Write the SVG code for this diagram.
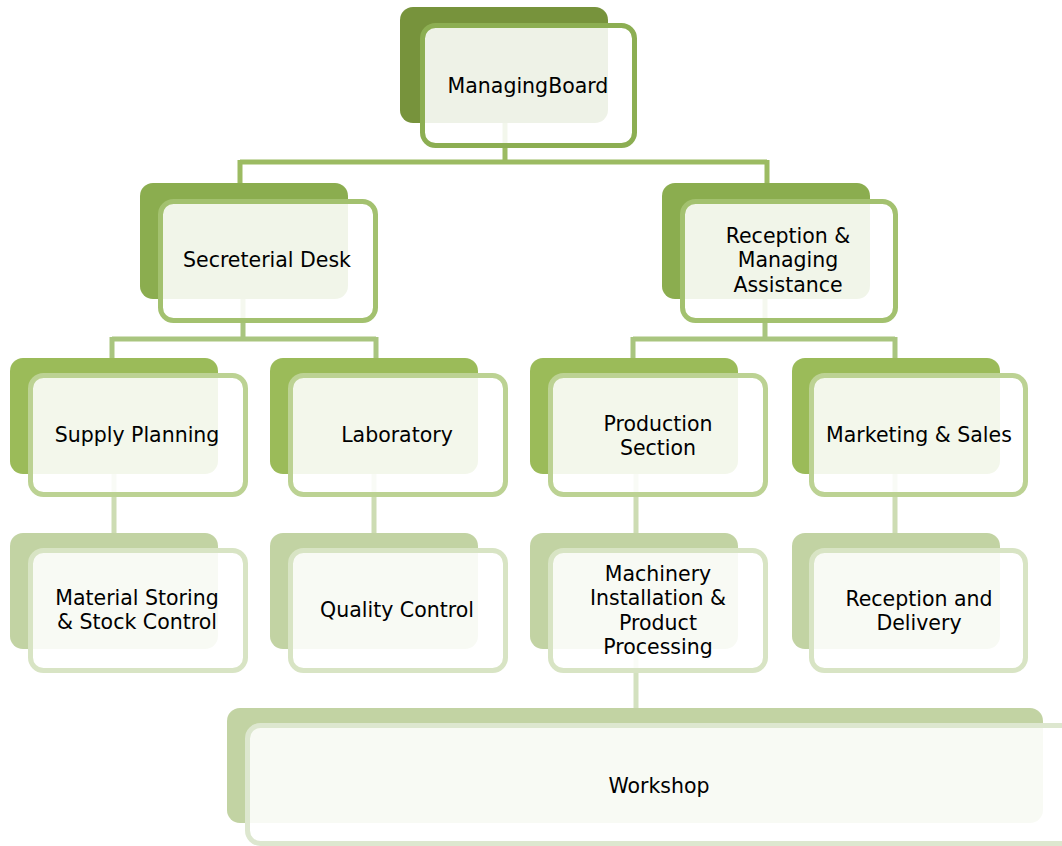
<svg xmlns="http://www.w3.org/2000/svg" width="1062" height="846" viewBox="0 0 1062 846">
  <style>
    text { font-family: "DejaVu Sans", "Open Sans", sans-serif; font-size: 20.5px; fill: #000; text-anchor: middle; }
    .back { stroke: none; }
    .front { fill: #ffffff; fill-opacity: 0.88; stroke-width: 5; }
    .b0 { fill: #77933c; } .f0 { stroke: #8cae52; }
    .b1 { fill: #8bad4f; } .f1 { stroke: #a3c16f; }
    .b2 { fill: #9bbb59; } .f2 { stroke: #bcd293; }
    .b3 { fill: #c2d3a3; } .f3 { stroke: #d8e4c4; }
    .f4 { stroke: #dde7cf; }
    .conn { fill: none; stroke-width: 5; stroke-linecap: butt; }
    .c0 { stroke: #9cbb62; }
    .c1 { stroke: #a9c57f; }
    .c2 { stroke: #cddcb3; }
    .c3 { stroke: #d3e1bf; }
  </style>

  <!-- connectors, drawn beneath the boxes -->
  <g id="connectors">
    <path class="conn c0" d="M505 120 V162 M240 162 H767 M240 160 V186 M767 160 V186"/>
    <path class="conn c1" d="M243 296 V339 M112 339 H376 M112 337 V361 M376 337 V361"/>
    <path class="conn c1" d="M765 296 V339 M633 339 H895 M633 337 V361 M895 337 V361"/>
    <path class="conn c2" d="M114 472 V533 M374 472 V533 M636 472 V533 M895 472 V533"/>
    <path class="conn c3" d="M636 647 V708"/>
  </g>

  <g id="managing-board">
    <rect class="back b0" x="400" y="7" width="208" height="116" rx="13"/>
    <rect class="front f0" x="422.5" y="25.5" width="212" height="120" rx="13"/>
    <text x="528" y="93">ManagingBoard</text>
  </g>

  <g id="secreterial-desk">
    <rect class="back b1" x="140" y="183" width="208" height="116" rx="13"/>
    <rect class="front f1" x="160.5" y="201.5" width="215" height="119" rx="13"/>
    <text x="267" y="267">Secreterial Desk</text>
  </g>

  <g id="reception-managing">
    <rect class="back b1" x="662" y="183" width="208" height="116" rx="13"/>
    <rect class="front f1" x="682.5" y="201.5" width="213" height="119" rx="13"/>
    <text x="788" y="243">Reception &amp;</text>
    <text x="788" y="267">Managing</text>
    <text x="788" y="292">Assistance</text>
  </g>

  <g id="supply-planning">
    <rect class="back b2" x="10" y="358" width="208" height="116" rx="13"/>
    <rect class="front f2" x="30.5" y="375.5" width="215" height="119" rx="13"/>
    <text x="137" y="442">Supply Planning</text>
  </g>

  <g id="laboratory">
    <rect class="back b2" x="270" y="358" width="208" height="116" rx="13"/>
    <rect class="front f2" x="290.5" y="375.5" width="215" height="119" rx="13"/>
    <text x="397" y="442">Laboratory</text>
  </g>

  <g id="production-section">
    <rect class="back b2" x="530" y="358" width="208" height="116" rx="13"/>
    <rect class="front f2" x="550.5" y="375.5" width="215" height="119" rx="13"/>
    <text x="658" y="431">Production</text>
    <text x="658" y="455">Section</text>
  </g>

  <g id="marketing-sales">
    <rect class="back b2" x="792" y="358" width="208" height="116" rx="13"/>
    <rect class="front f2" x="811.5" y="375.5" width="214" height="119" rx="13"/>
    <text x="919" y="442">Marketing &amp; Sales</text>
  </g>

  <g id="material-storing">
    <rect class="back b3" x="10" y="533" width="208" height="116" rx="13"/>
    <rect class="front f3" x="30.5" y="550.5" width="215" height="120" rx="13"/>
    <text x="137" y="605">Material Storing</text>
    <text x="137" y="629">&amp; Stock Control</text>
  </g>

  <g id="quality-control">
    <rect class="back b3" x="270" y="533" width="208" height="116" rx="13"/>
    <rect class="front f3" x="290.5" y="550.5" width="215" height="120" rx="13"/>
    <text x="397" y="617">Quality Control</text>
  </g>

  <g id="machinery-installation">
    <rect class="back b3" x="530" y="533" width="208" height="116" rx="13"/>
    <rect class="front f3" x="550.5" y="550.5" width="215" height="120" rx="13"/>
    <text x="658" y="581">Machinery</text>
    <text x="658" y="605">Installation &amp;</text>
    <text x="658" y="630">Product</text>
    <text x="658" y="654">Processing</text>
  </g>

  <g id="reception-delivery">
    <rect class="back b3" x="792" y="533" width="208" height="116" rx="13"/>
    <rect class="front f3" x="811.5" y="550.5" width="214" height="120" rx="13"/>
    <text x="919" y="606">Reception and</text>
    <text x="919" y="630">Delivery</text>
  </g>

  <g id="workshop">
    <rect class="back b3" x="227" y="708" width="816" height="115" rx="13"/>
    <rect class="front f4" x="247.5" y="725.5" width="830" height="118" rx="13"/>
    <text x="659" y="793">Workshop</text>
  </g>
</svg>
